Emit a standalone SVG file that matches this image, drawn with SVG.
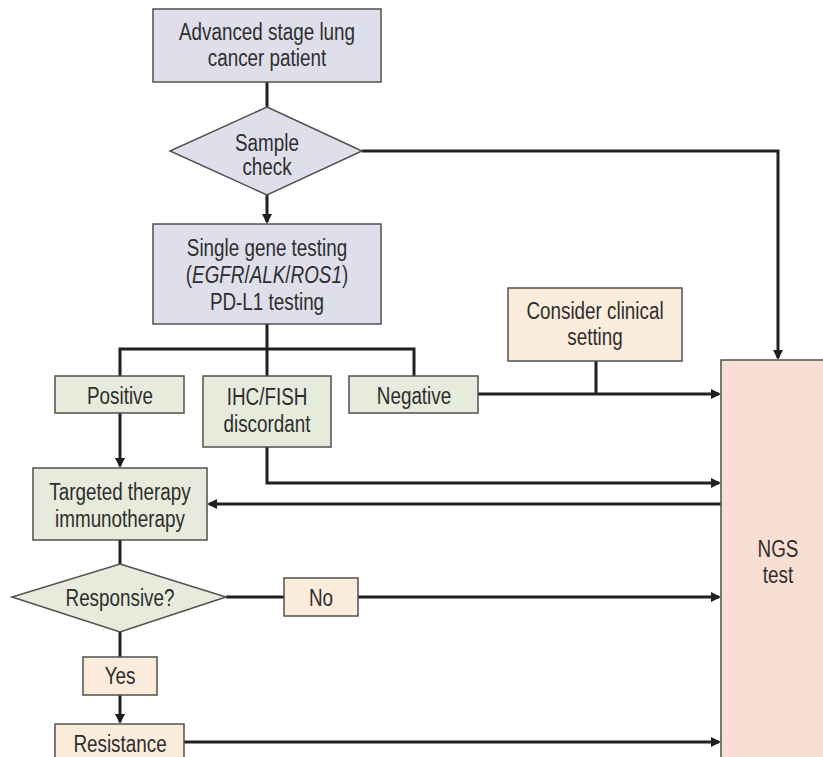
<svg xmlns="http://www.w3.org/2000/svg" width="823" height="757" viewBox="0 0 823 757">
<style>
  .box { stroke: #505050; stroke-width: 1.5; }
  .lav { fill: #dedfeb; }
  .grn { fill: #e6ebdc; }
  .crm { fill: #fcecdc; }
  .pnk { fill: #f9dfd3; }
  .t { font-family: "Liberation Sans", Arial, sans-serif; font-size: 23px; fill: #2e2e2e; text-anchor: middle; }
  .c { fill: none; stroke: #231f20; stroke-width: 3; }
</style>
<defs>
  <marker id="ah" markerUnits="userSpaceOnUse" markerWidth="12" markerHeight="12" refX="8" refY="5" orient="auto">
    <path d="M0,0 L10,5 L0,10 Z" fill="#231f20"/>
  </marker>
</defs>
<rect width="823" height="757" fill="#ffffff"/>

<g id="connectors">
  <path class="c" d="M267,82 V107"/>
  <path class="c" d="M267,195 V222" marker-end="url(#ah)"/>
  <path class="c" d="M362,151 H778 V358" marker-end="url(#ah)"/>
  <path class="c" d="M267,324 V376"/>
  <path class="c" d="M120,376 V349 H414 V376"/>
  <path class="c" d="M478,394 H719" marker-end="url(#ah)"/>
  <path class="c" d="M596,361 V394"/>
  <path class="c" d="M267,447 V483 H719" marker-end="url(#ah)"/>
  <path class="c" d="M721,504 H209" marker-end="url(#ah)"/>
  <path class="c" d="M120,413 V466" marker-end="url(#ah)"/>
  <path class="c" d="M120,540 V564"/>
  <path class="c" d="M226,597 H284"/>
  <path class="c" d="M358,597 H719" marker-end="url(#ah)"/>
  <path class="c" d="M120,632 V657"/>
  <path class="c" d="M120,695 V722" marker-end="url(#ah)"/>
  <path class="c" d="M184,742 H719" marker-end="url(#ah)"/>
</g>

<g id="node-patient">
  <rect class="box lav" x="153" y="9" width="228" height="73"/>
  <text class="t" transform="translate(267,40) scale(0.82,1)">Advanced stage lung</text>
  <text class="t" transform="translate(267,66) scale(0.82,1)">cancer patient</text>
</g>

<g id="node-sample">
  <polygon class="box lav" points="267,107 362,151 267,195 170,151"/>
  <text class="t" transform="translate(267,151) scale(0.82,1)">Sample</text>
  <text class="t" transform="translate(267,175) scale(0.82,1)">check</text>
</g>

<g id="node-single">
  <rect class="box lav" x="153" y="224" width="228" height="100"/>
  <text class="t" transform="translate(267,256) scale(0.82,1)">Single gene testing</text>
  <text class="t" transform="translate(267,283) scale(0.82,1)">(<tspan font-style="italic">EGFR</tspan>/<tspan font-style="italic">ALK</tspan>/<tspan font-style="italic">ROS1</tspan>)</text>
  <text class="t" transform="translate(267,310) scale(0.82,1)">PD-L1 testing</text>
</g>

<g id="node-positive">
  <rect class="box grn" x="55" y="376" width="129" height="37"/>
  <text class="t" transform="translate(120,404) scale(0.82,1)">Positive</text>
</g>

<g id="node-ihc">
  <rect class="box grn" x="203" y="376" width="128" height="71"/>
  <text class="t" transform="translate(267,405) scale(0.82,1)">IHC/FISH</text>
  <text class="t" transform="translate(267,432) scale(0.82,1)">discordant</text>
</g>

<g id="node-negative">
  <rect class="box grn" x="349" y="376" width="129" height="37"/>
  <text class="t" transform="translate(414,404) scale(0.82,1)">Negative</text>
</g>

<g id="node-clinical">
  <rect class="box crm" x="508" y="288" width="174" height="73"/>
  <text class="t" transform="translate(595,319) scale(0.82,1)">Consider clinical</text>
  <text class="t" transform="translate(595,345) scale(0.82,1)">setting</text>
</g>

<g id="node-ngs">
  <rect class="box pnk" x="721" y="360" width="120" height="420"/>
  <text class="t" transform="translate(778,557) scale(0.82,1)">NGS</text>
  <text class="t" transform="translate(778,583) scale(0.82,1)">test</text>
</g>

<g id="node-targeted">
  <rect class="box grn" x="33" y="468" width="174" height="72"/>
  <text class="t" transform="translate(120,500) scale(0.82,1)">Targeted therapy</text>
  <text class="t" transform="translate(120,527) scale(0.82,1)">immunotherapy</text>
</g>

<g id="node-responsive">
  <polygon class="box grn" points="120,564 226,597 120,632 12,597"/>
  <text class="t" transform="translate(120,606) scale(0.82,1)">Responsive?</text>
</g>

<g id="node-no">
  <rect class="box crm" x="284" y="578" width="74" height="38"/>
  <text class="t" transform="translate(321,606) scale(0.82,1)">No</text>
</g>

<g id="node-yes">
  <rect class="box crm" x="83" y="657" width="74" height="38"/>
  <text class="t" transform="translate(120,684) scale(0.82,1)">Yes</text>
</g>

<g id="node-resistance">
  <rect class="box crm" x="55" y="724" width="129" height="50"/>
  <text class="t" transform="translate(120,752) scale(0.82,1)">Resistance</text>
</g>
</svg>
